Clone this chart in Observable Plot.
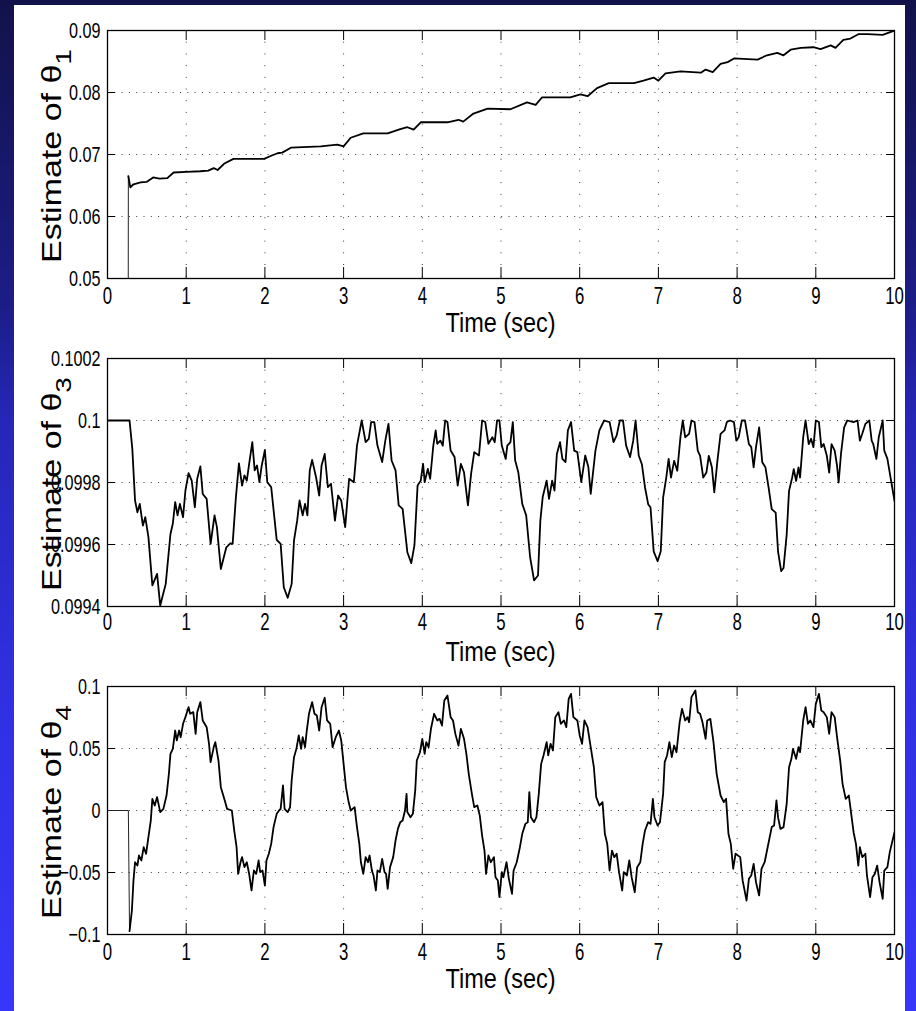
<!DOCTYPE html>
<html><head><meta charset="utf-8">
<script src="https://cdn.jsdelivr.net/npm/d3@7"></script>
<script src="https://cdn.jsdelivr.net/npm/@observablehq/plot@0.6"></script>
<style>
html,body{margin:0;padding:0;}
body{width:916px;height:1011px;overflow:hidden;position:relative;
background:linear-gradient(to bottom,#12124a 0px,#1c1c86 300px,#2626b8 420px,#3030e2 700px,#3737fa 1011px);}
#panel{position:absolute;left:14px;top:5px;width:891px;height:1006px;background:#fff;}
.plot{position:absolute;left:0;}
</style></head>
<body>
<div id="panel"></div>
<div id="p1" class="plot" style="top:0px"></div>
<div id="p2" class="plot" style="top:328px"></div>
<div id="p3" class="plot" style="top:656px"></div>
<script>
// ---------- data ----------
const xTicks = [0,1,2,3,4,5,6,7,8,9,10];
const xTickLabels = ["0","1","2","3","4","5","6","7","8","9","10"];
const xLabel = "Time (sec)";
const yLabelText = "Estimate of θ";
const subscripts = ["1","3","4"];

const yTicks1 = [0.05,0.06,0.07,0.08,0.09];
const yTickLabels1 = ["0.05","0.06","0.07","0.08","0.09"];
const yTicks3 = [0.0994,0.0996,0.0998,0.1,0.1002];
const yTickLabels3 = ["0.0994","0.0996","0.0998","0.1","0.1002"];
const yTicks4 = [-0.1,-0.05,0,0.05,0.1];
const yTickLabels4 = ["\u22120.1","\u22120.05","0","0.05","0.1"];

const time1 = [0,0.26,0.265,0.29,0.33,0.42,0.5,0.58,0.66,0.76,0.84,1.0,1.18,1.28,1.35,1.4,1.48,1.6,1.99,2.08,2.16,2.22,2.33,2.71,2.92,3.0,3.09,3.25,3.56,3.72,3.81,3.89,3.98,4.32,4.46,4.52,4.65,4.83,5.12,5.33,5.44,5.52,5.88,6.01,6.1,6.22,6.37,6.69,6.81,6.94,7.0,7.09,7.28,7.54,7.6,7.69,7.79,7.88,7.96,8.26,8.38,8.51,8.59,8.68,8.81,8.97,9.06,9.19,9.25,9.35,9.44,9.54,9.66,9.85,10];
const theta1 = [0,0,0.0665,0.0647,0.0652,0.0655,0.0656,0.0663,0.0661,0.0662,0.0671,0.0672,0.0673,0.0674,0.0678,0.0675,0.0685,0.0693,0.0693,0.0698,0.0702,0.0703,0.0711,0.0713,0.0716,0.0713,0.0727,0.0734,0.0734,0.0741,0.0744,0.074,0.0752,0.0752,0.0756,0.0753,0.0766,0.0774,0.0773,0.0784,0.078,0.0792,0.0792,0.0797,0.0794,0.0807,0.0815,0.0815,0.0819,0.0824,0.0819,0.0831,0.0834,0.0832,0.0837,0.0833,0.0846,0.0849,0.0855,0.0853,0.086,0.0864,0.086,0.0869,0.0872,0.0873,0.087,0.0876,0.0872,0.0885,0.0887,0.0894,0.0894,0.0893,0.09];

const time3 = [0,0.28,0.315,0.35,0.38,0.41,0.45,0.48,0.52,0.57,0.63,0.67,0.74,0.8,0.83,0.86,0.89,0.92,0.96,0.99,1.03,1.07,1.11,1.14,1.18,1.21,1.26,1.31,1.36,1.39,1.44,1.51,1.56,1.59,1.63,1.67,1.71,1.74,1.77,1.8,1.84,1.87,1.9,1.93,1.96,2.0,2.03,2.08,2.15,2.2,2.24,2.29,2.34,2.37,2.41,2.44,2.48,2.51,2.54,2.57,2.6,2.65,2.69,2.72,2.76,2.8,2.84,2.89,2.93,2.97,3.02,3.07,3.13,3.17,3.23,3.28,3.32,3.35,3.39,3.43,3.49,3.53,3.57,3.61,3.66,3.7,3.75,3.81,3.86,3.9,3.94,3.98,4.01,4.03,4.07,4.1,4.14,4.17,4.19,4.23,4.26,4.29,4.32,4.36,4.41,4.45,4.49,4.53,4.58,4.62,4.66,4.72,4.76,4.8,4.84,4.89,4.92,4.95,4.98,5.01,5.06,5.08,5.12,5.15,5.18,5.22,5.27,5.32,5.37,5.42,5.47,5.5,5.53,5.58,5.61,5.65,5.68,5.71,5.75,5.78,5.82,5.85,5.89,5.93,5.97,6.02,6.07,6.11,6.14,6.2,6.25,6.31,6.38,6.43,6.47,6.51,6.55,6.59,6.64,6.68,6.71,6.75,6.79,6.83,6.87,6.9,6.94,6.99,7.03,7.06,7.1,7.13,7.16,7.2,7.24,7.28,7.31,7.34,7.39,7.42,7.46,7.5,7.53,7.57,7.61,7.64,7.68,7.71,7.75,7.79,7.84,7.87,7.91,7.96,7.99,8.02,8.06,8.1,8.15,8.18,8.21,8.24,8.28,8.32,8.36,8.4,8.44,8.49,8.52,8.56,8.59,8.63,8.66,8.7,8.72,8.75,8.78,8.8,8.84,8.87,8.91,8.94,8.97,9.0,9.04,9.07,9.1,9.14,9.17,9.2,9.24,9.27,9.29,9.32,9.36,9.4,9.48,9.53,9.56,9.59,9.63,9.68,9.71,9.73,9.77,9.8,9.85,9.87,9.91,9.95,10];
const theta3 = [0.1,0.1,0.09991,0.099742,0.099704,0.099731,0.099661,0.099688,0.099624,0.099468,0.099505,0.099403,0.099473,0.099634,0.099667,0.099737,0.099694,0.099731,0.099688,0.099774,0.09983,0.099806,0.09972,0.099812,0.099852,0.099763,0.099747,0.099602,0.099694,0.099656,0.099521,0.099591,0.099604,0.099602,0.099747,0.099862,0.09979,0.099823,0.099806,0.09986,0.09993,0.099839,0.099855,0.099801,0.099855,0.099905,0.099801,0.099785,0.099615,0.099602,0.099462,0.099428,0.099473,0.099613,0.099677,0.099742,0.099694,0.099731,0.099694,0.099839,0.099873,0.099817,0.099758,0.099855,0.099892,0.099785,0.099796,0.099677,0.099758,0.099742,0.099656,0.099812,0.099801,0.099919,0.1,0.09993,0.099941,0.099995,0.099995,0.099919,0.099866,0.099935,0.099989,0.099871,0.099839,0.099726,0.099715,0.099575,0.09954,0.099597,0.09979,0.099806,0.09986,0.099801,0.099844,0.099812,0.099919,0.099968,0.099925,0.099935,0.099919,0.1,0.099995,0.099903,0.099882,0.09979,0.09986,0.099833,0.099726,0.099828,0.099898,0.099887,0.1,0.099995,0.099925,0.099946,0.09993,0.1,0.1,0.099919,0.099876,0.099919,0.09993,0.099995,0.099871,0.099833,0.099731,0.099694,0.099559,0.099484,0.0995,0.099677,0.099753,0.099806,0.099747,0.099806,0.099774,0.099892,0.09993,0.099876,0.099866,0.099968,0.099995,0.099903,0.099898,0.099801,0.099887,0.09985,0.099763,0.099903,0.099968,0.1,0.099995,0.09993,0.099952,0.1,0.1,0.099919,0.099882,0.099935,0.1,0.099887,0.099859,0.099784,0.09973,0.099719,0.099578,0.099546,0.099578,0.099751,0.099816,0.099876,0.099816,0.09987,0.099838,0.099946,0.1,0.099946,0.099957,0.1,0.099995,0.099903,0.099886,0.099816,0.099832,0.099886,0.099849,0.099768,0.09987,0.099957,0.099968,0.099995,0.1,0.099995,0.099935,0.099946,0.1,0.1,0.099924,0.099914,0.099849,0.099914,0.099978,0.099865,0.099849,0.099784,0.099714,0.099703,0.099578,0.099514,0.099524,0.099632,0.099773,0.099816,0.099843,0.099805,0.099849,0.099816,0.099946,0.1,0.099924,0.099941,0.099914,0.1,0.099995,0.099914,0.099924,0.099886,0.099832,0.099924,0.099903,0.099854,0.0998,0.099892,0.099978,0.1,0.099995,0.1,0.099935,0.099957,0.099989,0.1,0.099935,0.099924,0.099876,0.099946,0.1,0.099903,0.099876,0.099816,0.099741];

const time4 = [0,0.265,0.28,0.31,0.33,0.35,0.38,0.4,0.43,0.46,0.49,0.52,0.55,0.57,0.6,0.63,0.67,0.71,0.75,0.78,0.8,0.83,0.86,0.88,0.91,0.93,0.96,0.99,1.03,1.05,1.09,1.12,1.14,1.18,1.21,1.26,1.29,1.31,1.35,1.37,1.41,1.44,1.49,1.52,1.58,1.61,1.64,1.66,1.69,1.71,1.74,1.77,1.8,1.83,1.86,1.89,1.92,1.94,1.97,2.0,2.02,2.05,2.08,2.11,2.15,2.18,2.2,2.23,2.25,2.29,2.32,2.34,2.37,2.4,2.43,2.46,2.48,2.51,2.53,2.56,2.6,2.63,2.66,2.69,2.72,2.76,2.79,2.83,2.86,2.9,2.94,2.97,3.0,3.03,3.06,3.09,3.14,3.17,3.2,3.22,3.25,3.28,3.31,3.33,3.36,3.38,3.41,3.43,3.46,3.49,3.52,3.54,3.56,3.59,3.63,3.66,3.69,3.72,3.75,3.78,3.8,3.81,3.85,3.88,3.91,3.93,3.97,4.0,4.03,4.05,4.08,4.11,4.15,4.19,4.22,4.25,4.28,4.32,4.36,4.39,4.42,4.46,4.49,4.53,4.56,4.59,4.63,4.66,4.7,4.73,4.76,4.79,4.81,4.84,4.87,4.91,4.93,4.96,4.98,5.01,5.03,5.07,5.1,5.14,5.16,5.2,5.24,5.27,5.31,5.34,5.36,5.38,5.42,5.45,5.48,5.51,5.54,5.58,5.6,5.63,5.66,5.69,5.73,5.76,5.8,5.83,5.86,5.89,5.92,5.97,6.0,6.03,6.06,6.1,6.14,6.18,6.21,6.25,6.29,6.32,6.35,6.38,6.41,6.44,6.47,6.5,6.54,6.56,6.6,6.63,6.66,6.7,6.73,6.77,6.8,6.83,6.87,6.9,6.93,6.95,6.99,7.02,7.06,7.08,7.11,7.14,7.17,7.2,7.23,7.27,7.3,7.34,7.37,7.39,7.42,7.47,7.5,7.53,7.56,7.6,7.62,7.66,7.7,7.74,7.79,7.83,7.86,7.89,7.92,7.95,7.98,8.01,8.04,8.07,8.12,8.15,8.18,8.21,8.24,8.28,8.31,8.35,8.38,8.41,8.44,8.47,8.5,8.52,8.55,8.59,8.63,8.66,8.69,8.71,8.75,8.78,8.8,8.84,8.87,8.9,8.93,8.97,9.0,9.04,9.07,9.1,9.14,9.17,9.2,9.24,9.27,9.31,9.34,9.38,9.42,9.45,9.48,9.51,9.54,9.56,9.59,9.63,9.65,9.69,9.72,9.75,9.78,9.81,9.85,9.87,9.91,9.94,10];
const theta4 = [0,0,-0.0973,-0.0806,-0.0565,-0.0417,-0.0444,-0.0363,-0.0403,-0.0296,-0.0349,-0.0215,-0.0081,0.0094,0.004,0.0108,-0.0013,0.0013,0.0121,0.0296,0.0457,0.0497,0.0645,0.0565,0.0645,0.0591,0.0699,0.0753,0.0833,0.078,0.0793,0.0618,0.0793,0.0874,0.0726,0.0672,0.0538,0.039,0.0511,0.0551,0.0403,0.0188,0.0081,0.0013,0,-0.0161,-0.0296,-0.0511,-0.0417,-0.0376,-0.0457,-0.0417,-0.0511,-0.0645,-0.0484,-0.0511,-0.0403,-0.0497,-0.0484,-0.0605,-0.0403,-0.0349,-0.0269,-0.0134,-0.0027,0,0.0013,0.0202,0.0013,-0.0013,0.0027,0.0242,0.043,0.0497,0.0605,0.0497,0.0591,0.0511,0.0632,0.078,0.0874,0.078,0.0766,0.0645,0.0833,0.0909,0.0726,0.0699,0.0511,0.0591,0.0645,0.0565,0.0376,0.0188,0.0081,0,0.0027,-0.0134,-0.0269,-0.0417,-0.0511,-0.0376,-0.0417,-0.0363,-0.0484,-0.0524,-0.0645,-0.0484,-0.0497,-0.039,-0.0497,-0.0511,-0.0632,-0.0457,-0.0376,-0.0242,-0.0148,-0.0094,-0.0081,0,0.0134,-0.0013,-0.0054,-0.0027,0.0161,0.0403,0.047,0.0578,0.0457,0.0551,0.0511,0.0659,0.078,0.0726,0.0739,0.0685,0.0887,0.0927,0.0753,0.0726,0.0618,0.0524,0.0659,0.0578,0.0457,0.0296,0.0134,0.0027,0.004,-0.004,-0.0202,-0.0323,-0.0511,-0.0363,-0.0417,-0.0376,-0.0538,-0.0565,-0.0699,-0.0497,-0.0538,-0.0417,-0.0551,-0.0672,-0.0484,-0.0417,-0.0296,-0.0188,-0.0108,-0.0094,0.0148,-0.0054,-0.0094,-0.0054,0.0134,0.0376,0.0444,0.0551,0.0444,0.0538,0.0484,0.0753,0.0793,0.0699,0.0726,0.0672,0.09,0.0941,0.0753,0.0726,0.0605,0.0538,0.0726,0.0672,0.0511,0.0349,0.0108,0.004,0.0067,-0.0188,-0.0269,-0.0484,-0.0323,-0.0376,-0.0349,-0.0497,-0.0645,-0.0497,-0.0524,-0.0403,-0.0538,-0.0659,-0.0457,-0.0417,-0.0269,-0.0161,-0.0094,-0.0108,0.0094,-0.0054,-0.0121,-0.0094,0.0134,0.039,0.0444,0.0551,0.043,0.0524,0.047,0.0712,0.082,0.0726,0.0753,0.0712,0.0914,0.0968,0.0793,0.078,0.0712,0.0578,0.0726,0.0739,0.0551,0.0296,0.0121,0.0067,0.0094,-0.0188,-0.0269,-0.047,-0.0349,-0.0363,-0.0376,-0.0564,-0.0726,-0.0551,-0.0524,-0.043,-0.0578,-0.0685,-0.047,-0.0417,-0.0323,-0.0228,-0.0134,-0.0121,0.0081,-0.0054,-0.0148,-0.0134,0.0054,0.0349,0.0417,0.0497,0.0417,0.0511,0.047,0.0726,0.0833,0.0699,0.0726,0.0672,0.086,0.0941,0.0806,0.0793,0.0753,0.0618,0.0793,0.0753,0.0591,0.0403,0.0215,0.0094,0.0121,-0.0027,-0.0175,-0.0269,-0.0444,-0.0296,-0.0376,-0.0349,-0.0524,-0.0699,-0.0538,-0.0511,-0.0444,-0.0578,-0.0712,-0.0484,-0.0457,-0.0336,-0.0175];

// ---------- drawing ----------
const FONT = '"Liberation Sans", Arial, Helvetica, sans-serif';
const W = 916, ML = 107, MR = 22, MT = 30, FH = 248;
const FW = W - ML - MR;

function squeeze(svg, selector, sx, fs) {
  svg.querySelectorAll(selector).forEach(g => {
    g.querySelectorAll("text").forEach(t => {
      t.style.fontSize = fs + "px";
      t.style.fontFamily = FONT;
      let tr = t.getAttribute("transform");
      if (tr == null) {
        const x = +(t.getAttribute("x") || 0);
        t.setAttribute("x", 0);
        tr = `translate(${x},0)`;
      }
      t.setAttribute("transform", tr + ` scale(${sx},1)`);
    });
  });
}

function panel(el, {time, values, yDomain, yTicks, yTickLabels, sub, height, tickPad, xLabelY, thinUntil}) {
  const data = time.map((t, i) => ({t, v: values[i]}));
  const head = thinUntil ? data.slice(0, thinUntil + 1) : [];
  const body = thinUntil ? data.slice(thinUntil) : data;
  const plot = Plot.plot({
    width: W, height,
    marginLeft: ML, marginRight: MR, marginTop: MT, marginBottom: height - MT - FH,
    style: {background: "transparent", fontFamily: FONT, fontSize: "23px", color: "black", overflow: "visible"},
    x: {domain: [0, 10], ticks: xTicks, tickSize: 0, tickPadding: tickPad,
        tickFormat: d => xTickLabels[xTicks.indexOf(d)], label: null},
    y: {domain: yDomain, ticks: yTicks, tickSize: 0, tickPadding: 7,
        tickFormat: d => yTickLabels[yTicks.indexOf(d)], label: null},
    marks: [
      Plot.gridY(yTicks, {stroke: "#3a3a3a", strokeOpacity: 1, strokeWidth: 1, strokeDasharray: "1,6.3"}),
      Plot.gridX(xTicks, {stroke: "#3a3a3a", strokeOpacity: 1, strokeWidth: 1, strokeDasharray: "1,10.7"}),
      Plot.tickX(xTicks, {x: d => d, insetTop: FH - 11, stroke: "black", strokeWidth: 1}),
      Plot.tickX(xTicks, {x: d => d, insetBottom: FH - 10, stroke: "black", strokeWidth: 1}),
      Plot.tickY(yTicks, {y: d => d, insetRight: FW - 8, stroke: "black", strokeWidth: 1}),
      Plot.tickY(yTicks, {y: d => d, insetLeft: FW - 8, stroke: "black", strokeWidth: 1}),
      Plot.line(head, {x: "t", y: "v", stroke: "#222", strokeWidth: 1, clip: true}),
      Plot.line(body, {x: "t", y: "v", stroke: "black", strokeWidth: 1.8, strokeLinejoin: "round", clip: true}),
      Plot.frame({stroke: "black", strokeWidth: 1.3})
    ]
  });
  squeeze(plot, 'g[aria-label="x-axis tick label"]', 0.7, 24);
  squeeze(plot, 'g[aria-label="y-axis tick label"]', 0.72, 22.5);
  const s = d3.select(plot);
  // y label (rotated, with subscript)
  const yl = s.append("text")
    .attr("transform", `translate(61,${MT + FH - 15}) rotate(-90) scale(1,0.82)`)
    .attr("text-anchor", "start")
    .style("font-family", FONT).style("font-size", "34px").attr("fill", "black");
  yl.append("tspan").text(yLabelText);
  yl.append("tspan").style("font-size", "28px").attr("dy", 12).text(sub);
  // x label
  s.append("text")
    .attr("transform", `translate(${ML + FW / 2},${xLabelY}) scale(0.84,1)`)
    .attr("text-anchor", "middle")
    .style("font-family", FONT).style("font-size", "28px").attr("fill", "black")
    .text(xLabel);
  document.getElementById(el).appendChild(plot);
}

panel("p1", {time: time1, values: theta1, yDomain: [0.05, 0.09], yTicks: yTicks1, yTickLabels: yTickLabels1,
  sub: subscripts[0], height: 335, tickPad: 8, xLabelY: 332, thinUntil: 2});
panel("p2", {time: time3, values: theta3, yDomain: [0.0994, 0.1002], yTicks: yTicks3, yTickLabels: yTickLabels3,
  sub: subscripts[1], height: 335, tickPad: 6, xLabelY: 333});
panel("p3", {time: time4, values: theta4, yDomain: [-0.1, 0.1], yTicks: yTicks4, yTickLabels: yTickLabels4,
  sub: subscripts[2], height: 355, tickPad: 8, xLabelY: 332, thinUntil: 2});
</script>
</body></html>
